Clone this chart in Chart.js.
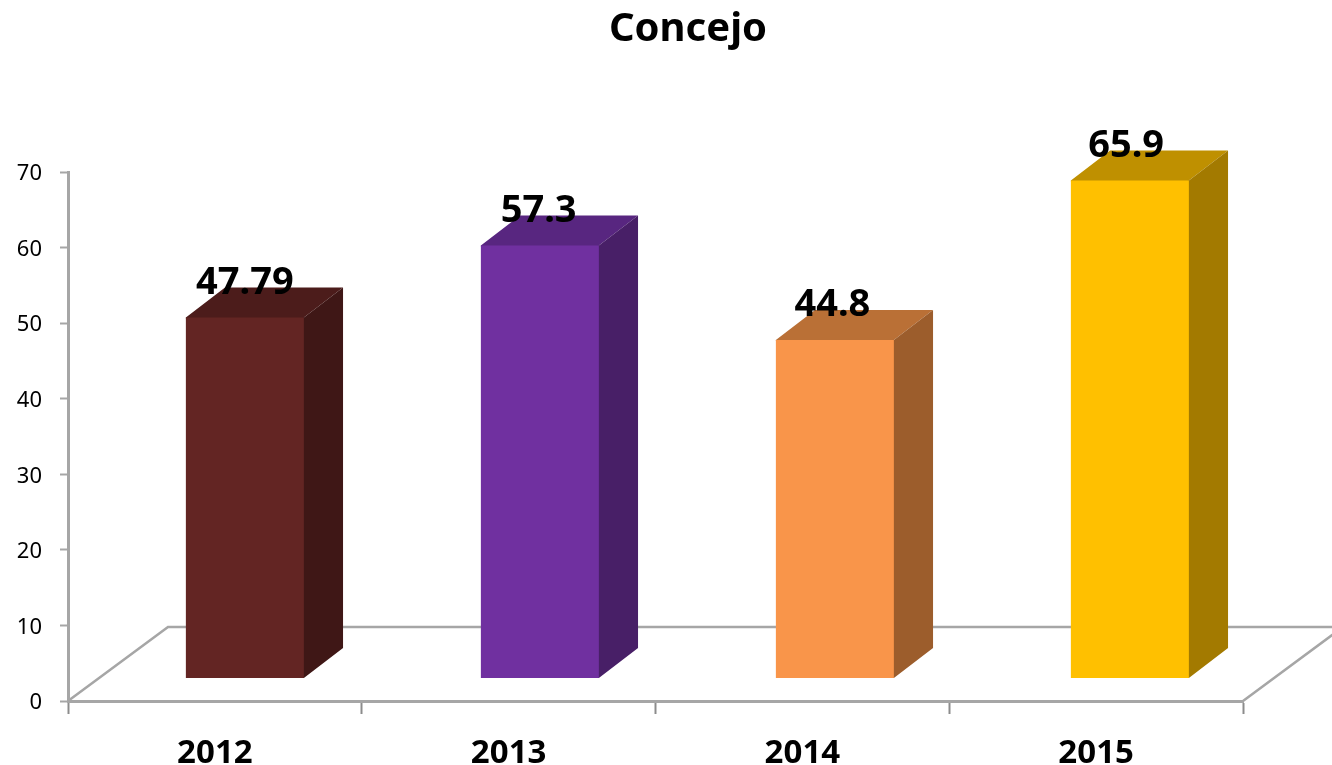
<!DOCTYPE html>
<html>
<head>
<meta charset="utf-8">
<style>html,body{margin:0;padding:0;background:#fff}canvas{display:block}</style>
<script src="https://cdn.jsdelivr.net/npm/chart.js@4/dist/chart.umd.min.js"></script>
</head>
<body>
<canvas id="c" width="1332" height="765"></canvas>
<script>
const categories = ['2012', '2013', '2014', '2015'];
const values = [47.79, 57.3, 44.8, 65.9];
const valueLabels = ['47.79', '57.3', '44.8', '65.9'];
const yTicks = [0, 10, 20, 30, 40, 50, 60, 70];
const frontColors = ['#632523', '#7030A0', '#F9954A', '#FFC000'];
const sideColors = ['#3F1716', '#481F67', '#9C5D2C', '#A37A00'];
const topColors = ['#4C1C1B', '#582680', '#BA7036', '#BF9000'];
const chartTitle = 'Concejo';

const FONT = '"Noto Sans", sans-serif';
const AXIS = '#A6A6A6';
const SHIFT = {x: 29.08, y: -22.4};
const STRETCH = 1.00426;
const DEPTH = {x: 39, y: -30};
const FLOOR = {x: 100, y: -74};

const threeD = {
  id: 'threeD',
  afterLayout(chart) {
    // the title is centred on the plot's 3D footprint, not on the canvas
    const t = chart.titleBlock;
    t.left = 44;
    t.right = chart.width;
  },
  beforeDatasetsDraw(chart) {
    const {ctx, chartArea: a} = chart;
    ctx.save();
    ctx.strokeStyle = AXIS;
    ctx.lineWidth = 2.5;
    ctx.beginPath();
    ctx.moveTo(a.left, a.bottom);
    ctx.lineTo(a.left + FLOOR.x, a.bottom + FLOOR.y);
    ctx.lineTo(chart.width + 10, a.bottom + FLOOR.y);
    ctx.moveTo(a.right, a.bottom);
    ctx.lineTo(a.right + FLOOR.x, a.bottom + FLOOR.y);
    ctx.stroke();
    ctx.restore();
  },
  beforeDatasetDraw(chart, args) {
    const ctx = chart.ctx;
    ctx.save();
    ctx.transform(STRETCH, 0, 0, 1, SHIFT.x, SHIFT.y);
    args.meta.data.forEach((bar, i) => {
      const l = bar.x - bar.width / 2, r = bar.x + bar.width / 2;
      const t = bar.y, b = bar.base;
      // faces tuck 1px under the front face so no light seam shows at the joins
      ctx.fillStyle = topColors[i];
      ctx.beginPath();
      ctx.moveTo(l, t + 1);
      ctx.lineTo(l, t);
      ctx.lineTo(l + DEPTH.x, t + DEPTH.y);
      ctx.lineTo(r + DEPTH.x, t + DEPTH.y);
      ctx.lineTo(r, t);
      ctx.lineTo(r, t + 1);
      ctx.closePath();
      ctx.fill();
      ctx.fillStyle = sideColors[i];
      ctx.beginPath();
      ctx.moveTo(r - 1, t);
      ctx.lineTo(r, t);
      ctx.lineTo(r + DEPTH.x, t + DEPTH.y);
      ctx.lineTo(r + DEPTH.x, b + DEPTH.y);
      ctx.lineTo(r, b);
      ctx.lineTo(r - 1, b);
      ctx.closePath();
      ctx.fill();
    });
  },
  afterDatasetDraw(chart, args) {
    const ctx = chart.ctx;
    ctx.restore();
    ctx.save();
    ctx.fillStyle = '#000';
    ctx.font = 'bold 38px ' + FONT;
    ctx.textAlign = 'center';
    ctx.textBaseline = 'middle';
    args.meta.data.forEach((bar, i) => {
      ctx.fillText(valueLabels[i], bar.x + 30, bar.y - 57);
    });
    ctx.restore();
  }
};

new Chart(document.getElementById('c'), {
  type: 'bar',
  data: {
    labels: categories,
    datasets: [{
      data: values,
      backgroundColor: frontColors,
      borderWidth: 0,
      categoryPercentage: 1,
      barPercentage: 0.4
    }]
  },
  plugins: [threeD],
  options: {
    responsive: false,
    animation: false,
    devicePixelRatio: 1,
    layout: {padding: {left: 0, right: 89, top: 0, bottom: 0}},
    plugins: {
      legend: {display: false},
      tooltip: {enabled: false},
      title: {
        display: true,
        text: chartTitle,
        color: '#000',
        font: {family: FONT, size: 40, weight: 'bold'},
        padding: {top: 6, bottom: 118}
      }
    },
    scales: {
      x: {
        grid: {drawOnChartArea: false, drawTicks: true, tickLength: 13, tickWidth: 2, color: '#8C8C8C', offset: true},
        border: {color: AXIS, width: 3},
        ticks: {color: '#000', padding: 20, maxRotation: 0, font: {family: FONT, size: 33, weight: 'bold'}},
        afterFit(s) { s.height = 64; }
      },
      y: {
        min: 0,
        max: 70,
        grid: {drawOnChartArea: false, drawTicks: true, tickLength: 8, tickWidth: 2, color: AXIS},
        border: {color: AXIS, width: 3},
        ticks: {
          color: '#000',
          padding: 18,
          autoSkip: false,
          labelOffset: 2,
          stepSize: yTicks[1] - yTicks[0],
          font: {family: FONT, size: 22}
        },
        afterFit(s) { s.width = 68; }
      }
    }
  }
});
</script>
</body>
</html>
